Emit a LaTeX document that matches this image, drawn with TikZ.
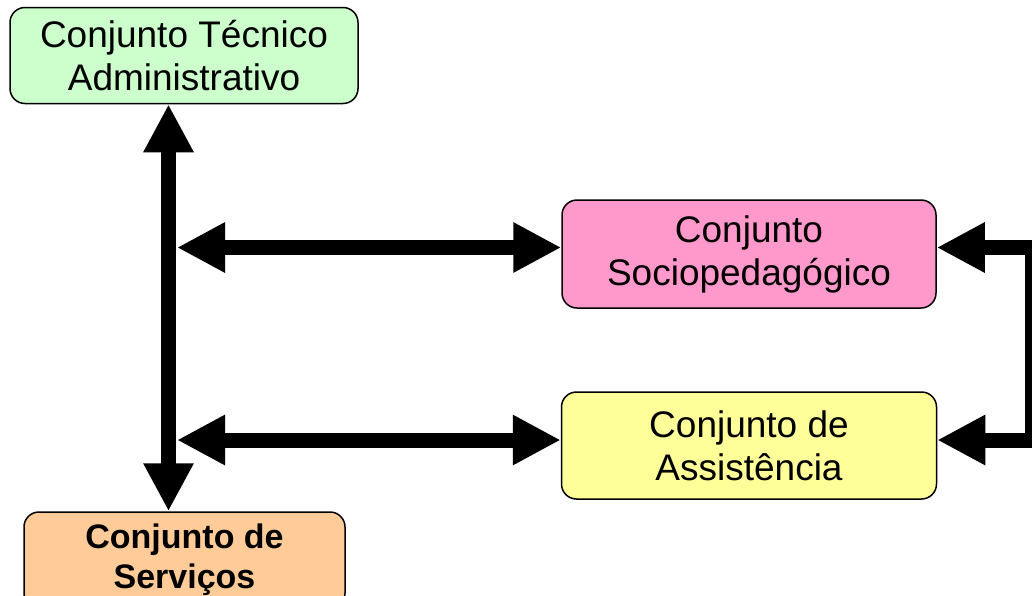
\documentclass[tikz,border=0pt]{standalone}
\usepackage{fontspec}
\setmainfont{Liberation Sans}
\usetikzlibrary{arrows.meta, positioning, calc}

\begin{document}
\begin{tikzpicture}[x=1pt, y=-1pt]
    % --- Style Definitions ---
    \tikzset{
        group box/.style={
            draw=black,
            line width=1.5pt,
            rounded corners=15pt,
            align=center,
            inner sep=0pt,
            font=\fontsize{37}{43}\selectfont
        },
        tecnico fill/.style={fill=green!20},
        socio fill/.style={fill={rgb,255:red,255;green,153;blue,204}},
        assist fill/.style={fill={rgb,255:red,255;green,255;blue,153}},
        servicos fill/.style={fill={rgb,255:red,255;green,204;blue,153}},
        bold text/.style={font=\fontsize{34}{40}\selectfont\bfseries},
        link arrow/.style={
            <->,
            >={Triangle[length=48pt, width=47pt]},
            line width=15pt,
            black
        },
        rail arrow/.style={
            link arrow,
            line join=miter
        }
    }

    \useasboundingbox (0,0) rectangle (1032,595);

    % ==========================================
    % BOXES
    % ==========================================
    \node[group box, tecnico fill, minimum width=348pt, minimum height=96pt]
        (tecnico) at (184,55.5) {Conjunto Técnico\\Administrativo};

    \node[group box, socio fill, minimum width=374pt, minimum height=108pt]
        (socio) at (749,254) {Conjunto\\Sociopedagógico};

    \node[group box, assist fill, minimum width=375pt, minimum height=107pt]
        (assist) at (749,445.5) {Conjunto de\\Assistência};

    \node[group box, servicos fill, bold text, minimum width=321pt, minimum height=96pt]
        (servicos) at (184.5,560) {Conjunto de\\Serviços};

    % ==========================================
    % CONNECTORS
    % ==========================================
    % spine and rail positions
    \coordinate (spine) at (168.5,0);
    \coordinate (rail) at (1032,0);
    \coordinate (jsocio) at (177,247.5);
    \coordinate (jassist) at (177,440);

    % 1. Vertical spine
    \draw[link arrow] (tecnico.south -| spine) -- (servicos.north -| spine);

    % 2. Branches to the right
    \draw[link arrow] (jsocio) -- (jsocio -| socio.west);
    \draw[link arrow] (jassist) -- (jassist -| assist.west);

    % 3. Right-hand rail
    \draw[rail arrow] (jsocio -| socio.east) -- (jsocio -| rail)
        -- (jassist -| rail) -- (jassist -| assist.east);

\end{tikzpicture}
\end{document}
